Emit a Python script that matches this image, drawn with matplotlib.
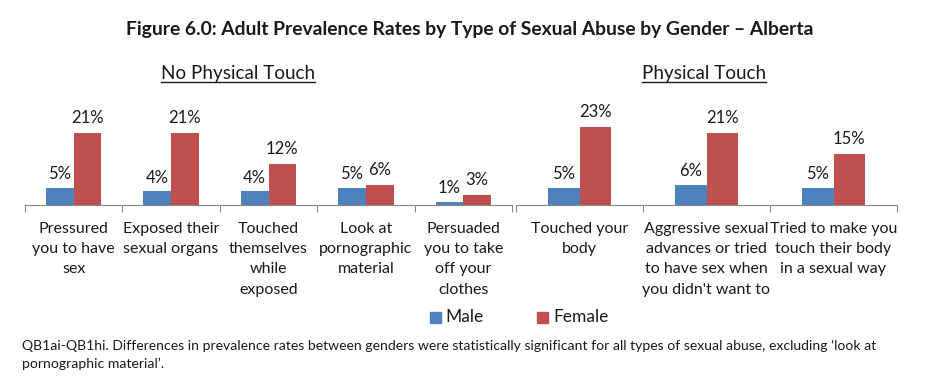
import matplotlib
matplotlib.use("Agg")
import matplotlib.pyplot as plt
from matplotlib.lines import Line2D
from matplotlib.patches import Rectangle
import numpy as np

plt.rcParams['font.family'] = ['Lato', 'DejaVu Sans']

title = "Figure 6.0: Adult Prevalence Rates by Type of Sexual Abuse by Gender \u2013 Alberta"
group_titles = ["No Physical Touch", "Physical Touch"]
cats_npt = ["Pressured\nyou to have\nsex", "Exposed their\nsexual organs", "Touched\nthemselves\nwhile\nexposed",
            "Look at\npornographic\nmaterial", "Persuaded\nyou to take\noff your\nclothes"]
male_npt = [5, 4, 4, 5, 1]
female_npt = [21, 21, 12, 6, 3]
cats_pt = ["Touched your\nbody", "Aggressive sexual\nadvances or tried\nto have sex when\nyou didn't want to",
           "Tried to make you\ntouch their body\nin a sexual way"]
male_pt = [5, 6, 5]
female_pt = [23, 21, 15]
series_names = ["Male", "Female"]
footnote = ("QB1ai-QB1hi. Differences in prevalence rates between genders were statistically significant for all types of sexual abuse, excluding \u2018look at\n"
            "pornographic material\u2019.")

MALE_C = "#4F81BD"
FEMALE_C = "#C0504D"
AXIS_C = "#868686"
TXT_C = "#1a1a1a"

W, H = 938, 392
fig = plt.figure(figsize=(W / 100, H / 100), dpi=100)

px_per_unit = 3.41
ymax = 30
base_y = 205
ax_h = ymax * px_per_unit


def make_ax(x0, x1):
    return fig.add_axes([x0 / W, (H - base_y) / H, (x1 - x0) / W, ax_h / H])


def draw(ax, cats, m, f, width):
    n = len(cats)
    x = np.arange(n)
    ax.bar(x - width / 2, m, width, color=MALE_C, label=series_names[0])
    ax.bar(x + width / 2, f, width, color=FEMALE_C, label=series_names[1])
    for xi, v in zip(x, m):
        ax.annotate(f"{v}%", (xi - width / 2, v), xytext=(0, 4), textcoords="offset points",
                    ha="center", va="bottom", fontsize=12, color=TXT_C)
    for xi, v in zip(x, f):
        ax.annotate(f"{v}%", (xi + width / 2, v), xytext=(0, 5), textcoords="offset points",
                    ha="center", va="bottom", fontsize=12, color=TXT_C)
    ax.set_xlim(-0.5, n - 0.5)
    ax.set_ylim(0, ymax)
    ax.set_xticks(np.arange(n + 1) - 0.5)
    ax.set_xticklabels([])
    ax.set_xticks(x, cats, minor=True)
    ax.tick_params(axis="x", which="major", length=5, color=AXIS_C, direction="out")
    ax.tick_params(axis="x", which="minor", length=0, pad=12, labelsize=11.5, labelcolor=TXT_C)
    for lab in ax.get_xticklabels(minor=True):
        lab.set_linespacing(1.58)
        lab.set_multialignment("center")
    ax.set_yticks([])
    for s in ["left", "right", "top"]:
        ax.spines[s].set_visible(False)
    ax.spines["bottom"].set_color(AXIS_C)
    ax.patch.set_alpha(0)


ax1 = make_ax(25, 512)
draw(ax1, cats_npt, male_npt, female_npt, 0.285)
ax2 = make_ax(516, 897)
draw(ax2, cats_pt, male_pt, female_pt, 0.245)

fig.text(470 / W, 1 - 30 / H, title, ha="center", va="center", fontsize=13.9, fontweight="bold", color=TXT_C)
gt1 = fig.text(238 / W, 1 - 74 / H, group_titles[0], ha="center", va="center", fontsize=13.6, color=TXT_C)
gt2 = fig.text(704 / W, 1 - 74 / H, group_titles[1], ha="center", va="center", fontsize=13.6, color=TXT_C)

# legend (manual layout)
fig.patches.append(Rectangle((430 / W, 1 - 323 / H), 11 / W, 11 / H, transform=fig.transFigure,
                             color=MALE_C, figure=fig))
fig.text(445 / W, 1 - 317 / H, series_names[0], ha="left", va="center", fontsize=12.5, color=TXT_C)
fig.patches.append(Rectangle((537 / W, 1 - 323 / H), 11 / W, 11 / H, transform=fig.transFigure,
                             color=FEMALE_C, figure=fig))
fig.text(553 / W, 1 - 317 / H, series_names[1], ha="left", va="center", fontsize=12.5, color=TXT_C)

fig.text(22 / W, 1 - 340 / H, footnote, ha="left", va="top", fontsize=10.1, color=TXT_C, linespacing=1.5)

# underline group titles
fig.canvas.draw()
r = fig.canvas.get_renderer()
for t in (gt1, gt2):
    bb = t.get_window_extent(r)
    yline = bb.y0 + 1
    fig.add_artist(Line2D([bb.x0 / W, bb.x1 / W], [yline / H, yline / H], transform=fig.transFigure,
                          color=TXT_C, linewidth=1))

fig.savefig("out.png", dpi=100)
